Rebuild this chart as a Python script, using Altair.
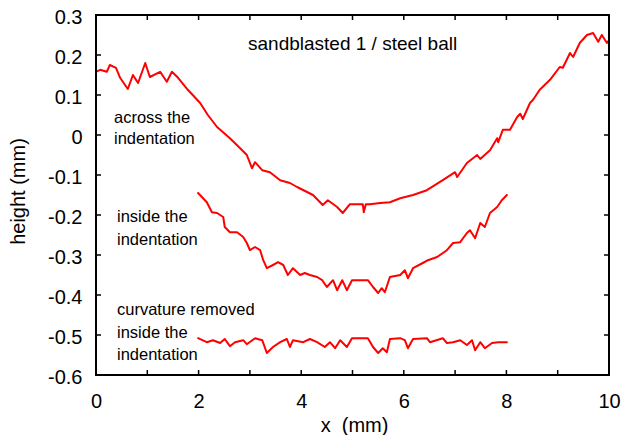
import altair as alt
import pandas as pd

# ---- data ----
across_x = [0.00, 0.08, 0.21, 0.27, 0.39, 0.47, 0.62, 0.72, 0.82, 0.96, 1.05, 1.25, 1.38, 1.48, 1.60,
            1.79, 2.03, 2.18, 2.36, 2.61, 2.81, 2.94, 3.04, 3.10, 3.24, 3.39, 3.59, 3.78, 3.92, 4.23,
            4.42, 4.52, 4.70, 4.81, 4.95, 5.20, 5.22, 5.26, 5.34, 5.54, 5.73, 5.93, 6.18, 6.45, 6.76,
            7.00, 7.04, 7.23, 7.43, 7.49, 7.68, 7.82, 7.84, 7.93, 8.07, 8.21, 8.27, 8.32, 8.46, 8.52,
            8.65, 8.85, 9.04, 9.10, 9.24, 9.30, 9.43, 9.57, 9.69, 9.79, 9.86, 9.96, 10.00]
across_y = [0.158, 0.163, 0.158, 0.175, 0.168, 0.143, 0.115, 0.150, 0.130, 0.180, 0.145, 0.158, 0.133, 0.158, 0.143,
            0.113, 0.080, 0.050, 0.020, -0.008, -0.033, -0.050, -0.083, -0.068, -0.088, -0.093, -0.113, -0.120, -0.130, -0.150,
            -0.175, -0.163, -0.180, -0.195, -0.173, -0.173, -0.193, -0.173, -0.173, -0.170, -0.168, -0.158, -0.150, -0.138, -0.113,
            -0.093, -0.105, -0.070, -0.050, -0.060, -0.038, -0.008, -0.018, 0.013, 0.013, 0.045, 0.053, 0.040, 0.080, 0.088,
            0.113, 0.138, 0.170, 0.168, 0.205, 0.195, 0.230, 0.250, 0.255, 0.233, 0.250, 0.230, 0.237]

inside_x = [1.99, 2.16, 2.26, 2.36, 2.48, 2.51, 2.61, 2.75, 2.87, 2.94, 3.00, 3.10, 3.20, 3.26, 3.33,
            3.45, 3.55, 3.65, 3.74, 3.84, 3.98, 4.07, 4.17, 4.31, 4.41, 4.50, 4.62, 4.70, 4.80, 4.89,
            4.99, 5.30, 5.40, 5.50, 5.57, 5.63, 5.73, 5.93, 6.02, 6.08, 6.18, 6.37, 6.47, 6.65, 6.84,
            6.96, 7.10, 7.23, 7.29, 7.39, 7.49, 7.58, 7.68, 7.82, 7.91, 8.01]
inside_y = [-0.145, -0.168, -0.193, -0.195, -0.205, -0.230, -0.243, -0.243, -0.255, -0.270, -0.288, -0.280, -0.288, -0.313, -0.333,
            -0.325, -0.318, -0.325, -0.350, -0.333, -0.350, -0.345, -0.350, -0.355, -0.363, -0.380, -0.363, -0.388, -0.363, -0.388,
            -0.363, -0.363, -0.380, -0.395, -0.383, -0.393, -0.355, -0.350, -0.338, -0.358, -0.333, -0.320, -0.313, -0.305, -0.288,
            -0.270, -0.268, -0.245, -0.238, -0.258, -0.220, -0.230, -0.195, -0.180, -0.163, -0.150]

flat_x = [1.99, 2.16, 2.28, 2.42, 2.51, 2.61, 2.71, 2.87, 2.94, 3.10, 3.24, 3.33, 3.45, 3.59, 3.72,
          3.78, 3.84, 4.04, 4.17, 4.31, 4.46, 4.56, 4.66, 4.76, 4.89, 4.99, 5.30, 5.40, 5.50, 5.59,
          5.67, 5.73, 5.93, 6.02, 6.08, 6.18, 6.45, 6.51, 6.76, 6.84, 6.96, 7.10, 7.23, 7.33, 7.39,
          7.49, 7.58, 7.72, 7.84, 8.01]
flat_y = [-0.508, -0.518, -0.513, -0.520, -0.510, -0.528, -0.518, -0.513, -0.523, -0.508, -0.513, -0.545, -0.530, -0.518, -0.510,
          -0.530, -0.513, -0.518, -0.510, -0.518, -0.530, -0.518, -0.533, -0.513, -0.530, -0.508, -0.508, -0.530, -0.545, -0.533,
          -0.543, -0.510, -0.508, -0.513, -0.533, -0.510, -0.508, -0.518, -0.508, -0.520, -0.518, -0.513, -0.525, -0.513, -0.538,
          -0.518, -0.533, -0.520, -0.518, -0.518]

x_ticks = [0, 1, 2, 3, 4, 5, 6, 7, 8, 9, 10]
x_labels = [0, 2, 4, 6, 8, 10]
y_ticks = [-0.6, -0.5, -0.4, -0.3, -0.2, -0.1, 0, 0.1, 0.2, 0.3]

title_text = "sandblasted 1 / steel ball"
label_across = ["across the", "indentation"]
label_inside = ["inside the", "indentation"]
label_flat = ["curvature removed", "inside the", "indentation"]

# ---- tables ----
frames = []
for name, xs, ys in [("across", across_x, across_y), ("inside", inside_x, inside_y), ("flat", flat_x, flat_y)]:
    frames.append(pd.DataFrame({"x": xs, "y": ys, "series": name, "i": range(len(xs))}))
df = pd.concat(frames, ignore_index=True)
xt = pd.DataFrame({"x": x_ticks})
yt = pd.DataFrame({"y": y_ticks})
one = pd.DataFrame({"a": [0]})

W, H = 513, 360
FONT = "Liberation Sans, Arial, Helvetica, sans-serif"
NARROW = "Liberation Sans Narrow, Arial Narrow, Liberation Sans, sans-serif"
RED = "#ff0000"

xscale = alt.Scale(domain=[0, 10], nice=False, zero=False)
yscale = alt.Scale(domain=[-0.6, 0.3], nice=False, zero=False)

xaxis = alt.Axis(values=x_labels, ticks=False, domain=False, grid=False,
                 labelFont=FONT, labelFontSize=20, labelColor="black", labelPadding=16,
                 labelFlush=False, labelOverlap=False,
                 title="x\u00a0 (mm)", titleFont=FONT, titleFontSize=20, titleFontWeight="normal",
                 titleColor="black", titleX=258, titleY=56, titleBaseline="alphabetic",
                 titleAlign="center")
yaxis = alt.Axis(values=y_ticks, ticks=False, domain=False, grid=False,
                 labelFont=FONT, labelFontSize=20, labelColor="black", labelPadding=14,
                 labelOffset=2, labelOverlap=False, labelFlush=False,
                 labelExpr="datum.value == 0 ? '0' : (datum.value < 0 ? '-' + format(-datum.value, '.1f') : format(datum.value, '.1f'))",
                 title="height (mm)", titleFont=FONT, titleFontSize=20, titleFontWeight="normal",
                 titleColor="black", titleAngle=-90, titleX=-78, titleY=176,
                 titleBaseline="middle", titleAlign="center")

X = alt.X("x:Q", scale=xscale, axis=xaxis)
Y = alt.Y("y:Q", scale=yscale, axis=yaxis)

lines = alt.Chart(df).mark_line(color=RED, strokeWidth=2, strokeJoin="round", strokeCap="round").encode(
    x=X, y=Y, detail="series:N", order="i:Q",
)

def hrule(py):
    return alt.Chart(one).mark_rule(color="black", strokeWidth=2).encode(
        x=alt.value(-1), x2=alt.value(W + 1), y=alt.value(py))

def vrule(px):
    return alt.Chart(one).mark_rule(color="black", strokeWidth=2).encode(
        y=alt.value(-1), y2=alt.value(H + 1), x=alt.value(px))

frame = [hrule(0), hrule(H), vrule(0), vrule(W)]

TL = 5
xt_bottom = alt.Chart(xt).mark_rule(color="black", strokeWidth=1.5).encode(
    x=X, y=alt.value(H), y2=alt.value(H - TL))
xt_top = alt.Chart(xt).mark_rule(color="black", strokeWidth=1.5).encode(
    x=X, y=alt.value(0), y2=alt.value(TL))
yt_left = alt.Chart(yt).mark_rule(color="black", strokeWidth=1.5).encode(
    y=Y, x=alt.value(0), x2=alt.value(TL))
yt_right = alt.Chart(yt).mark_rule(color="black", strokeWidth=1.5).encode(
    y=Y, x=alt.value(W), x2=alt.value(W - TL))

def note(text, px, py, font, size, lh=22):
    return alt.Chart(one).mark_text(
        align="left", baseline="alphabetic", font=font, fontSize=size, color="black",
        lineHeight=lh,
    ).encode(x=alt.value(px), y=alt.value(py), text=alt.value(text))

t0 = note(title_text, 152, 35, FONT, 19)
t1 = note(label_across, 18, 108, NARROW, 16.5, 21)
t2 = note(label_inside, 21, 207, NARROW, 16.5, 23)
t3 = note(label_flat, 21, 300, NARROW, 16.5, 22.5)

chart = alt.layer(lines, *frame, xt_bottom, xt_top, yt_left, yt_right, t0, t1, t2, t3).properties(
    width=W, height=H,
    autosize=alt.AutoSizeParams(type="none"),
    padding={"left": 96, "top": 15, "right": 15, "bottom": 60},
    background="white",
).configure_view(stroke=None)

chart.save("out.html", embed_options={"renderer": "svg", "actions": False})
